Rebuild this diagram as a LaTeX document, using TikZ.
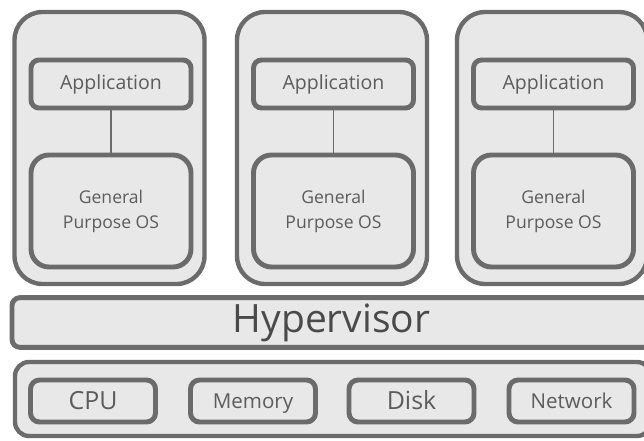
\documentclass[tikz,border=0pt]{standalone}
\usepackage{xcolor}
\usepackage{fontspec}
\setmainfont{Open Sans}
\usepackage{tikz}

\definecolor{boxline}{HTML}{6B6B6B}
\definecolor{boxfill}{HTML}{E8E8E8}
\definecolor{boxtext}{HTML}{5C5C5C}
\definecolor{hyptext}{HTML}{4A4A4A}

\begin{document}
\begin{tikzpicture}[
    vmbox/.style={draw=boxline, fill=boxfill, line width=2.5pt, rounded corners=0.56cm, minimum width=3.8cm, minimum height=5.44cm},
    appbox/.style={draw=boxline, fill=boxfill, line width=2.8pt, rounded corners=0.16cm, minimum width=3.2cm, minimum height=0.96cm, text=boxtext, font=\fontsize{11.1pt}{13pt}\selectfont},
    osbox/.style={draw=boxline, fill=boxfill, line width=2.8pt, rounded corners=0.36cm, minimum width=3.2cm, minimum height=2.24cm, text=boxtext, align=center, font=\fontsize{10pt}{14.2pt}\selectfont},
    hwpart/.style={draw=boxline, fill=boxfill, line width=2.8pt, rounded corners=0.18cm, minimum width=2.5cm, minimum height=0.84cm, text=boxtext, text depth=0pt},
    bigpart/.style={hwpart, font=\fontsize{14.2pt}{16pt}\selectfont, text height=10.1pt},
    smallpart/.style={hwpart, font=\fontsize{11.7pt}{14pt}\selectfont, text height=8.4pt},
    link/.style={draw=boxline, line width=0.6pt}
]
    \useasboundingbox (0, 0) rectangle (12.88, 8.8);

    \node[vmbox] at (2.19, 5.84) (vm1) {};
    \node[vmbox] at (6.64, 5.84) (vm2) {};
    \node[vmbox] at (11.04, 5.84) (vm3) {};

    \node[appbox] at (2.22, 7.12) (app1) {Application};
    \node[appbox] at (6.67, 7.12) (app2) {Application};
    \node[appbox] at (11.07, 7.12) (app3) {Application};

    \node[osbox] at (2.22, 4.58) (os1) {General\\Purpose OS};
    \node[osbox] at (6.67, 4.58) (os2) {General\\Purpose OS};
    \node[osbox] at (11.07, 4.58) (os3) {General\\Purpose OS};

    \draw[link] (app1) -- (os1); \draw[link] (app2) -- (os2); \draw[link] (app3) -- (os3);

    \node[draw=boxline, fill=boxfill, line width=2.8pt, rounded corners=0.16cm, minimum width=12.78cm, minimum height=0.98cm, text=hyptext, font=\fontsize{22.2pt}{24pt}\selectfont] at (6.63, 2.35) (hyp) {Hypervisor};

    \node[draw=boxline, fill=boxfill, line width=2.5pt, rounded corners=0.28cm, minimum width=12.72cm, minimum height=1.48cm] at (6.66, 0.82) (hw) {};
    \node[bigpart] at (1.86, 0.78) (cpu) {CPU};
    \node[smallpart] at (5.06, 0.78) (mem) {Memory};
    \node[bigpart] at (8.23, 0.78) (disk) {Disk};
    \node[smallpart] at (11.43, 0.78) (net) {Network};
\end{tikzpicture}
\end{document}
